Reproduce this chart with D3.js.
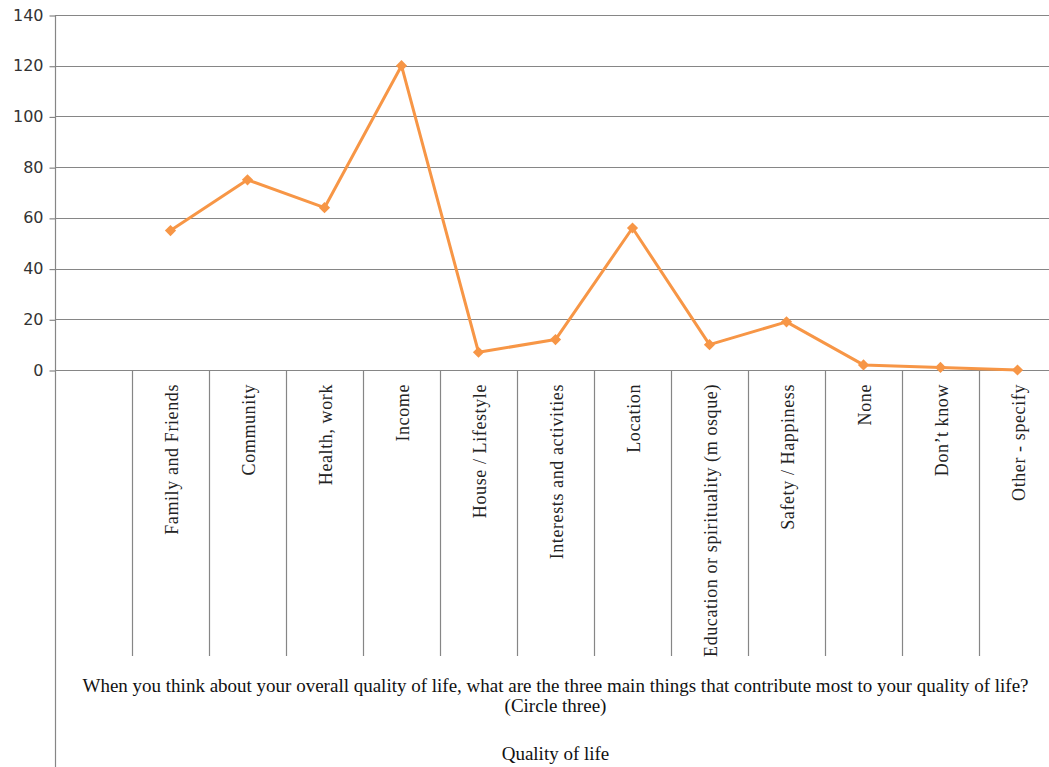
<!DOCTYPE html>
<html>
<head>
<meta charset="utf-8">
<script src="https://cdn.jsdelivr.net/npm/d3@7"></script>
<style>
  html, body { margin: 0; padding: 0; background: #fff; }
  svg { display: block; }
</style>
</head>
<body>
<script>
// Survey responses: leading blank slot, then the answer options
const categories = ["", "Family and Friends", "Community", "Health, work", "Income",
  "House / Lifestyle", "Interests and activities", "Location",
  "Education or spirituality (m osque)", "Safety / Happiness", "None",
  "Don\u2019t know", "Other - specify"];
const values = [null, 55, 75, 64, 120, 7, 12, 56, 10, 19, 2, 1, 0];
const yTicks = [0, 20, 40, 60, 80, 100, 120, 140];
const groupTitle = ["When you think about your overall quality of life, what are the three main things that contribute most to your quality of life?",
  "(Circle three)"];
const axisTitle = "Quality of life";

const W = 1049, H = 767;
const plotLeft = 55, plotRight = 1056, plotTop = 15, plotBottom = 370;

const svg = d3.select("body").append("svg").attr("width", W).attr("height", H);

const x = d3.scaleBand().domain(categories).range([plotLeft, plotRight]);
const y = d3.scaleLinear().domain([0, 140]).range([plotBottom, plotTop]);

const grid = "#868686";

// horizontal gridlines
svg.append("g").selectAll("line").data(yTicks).join("line")
  .attr("x1", plotLeft).attr("x2", W)
  .attr("y1", d => Math.round(y(d)) + 0.5).attr("y2", d => Math.round(y(d)) + 0.5)
  .attr("stroke", grid).attr("stroke-width", 1.2);

// y axis
const yAxis = svg.append("g").attr("transform", `translate(${plotLeft + 0.5},0)`)
  .call(d3.axisLeft(y).tickValues(yTicks).tickSize(6).tickPadding(6).tickSizeOuter(0));
yAxis.select(".domain").remove();
yAxis.selectAll(".tick line").attr("stroke", grid).attr("stroke-width", 1.2)
  .attr("transform", "translate(0,0.5)");
yAxis.selectAll(".tick text").attr("fill", "#333")
  .style("font-family", "'DejaVu Sans', sans-serif").style("font-size", "16px");

// left axis line runs the full height of the category area
svg.append("line").attr("x1", plotLeft + 0.5).attr("x2", plotLeft + 0.5)
  .attr("y1", plotTop).attr("y2", H).attr("stroke", grid).attr("stroke-width", 1.2);

// category dividers
svg.append("g").selectAll("line").data(categories.slice(1)).join("line")
  .attr("x1", d => Math.round(x(d)) + 0.5).attr("x2", d => Math.round(x(d)) + 0.5)
  .attr("y1", plotBottom).attr("y2", 656)
  .attr("stroke", grid).attr("stroke-width", 1.2);

// rotated category labels
svg.append("g").selectAll("text").data(categories.filter(c => c !== "")).join("text")
  .attr("transform", d => `translate(${x(d) + x.bandwidth() / 2 + 7},${plotBottom + 14}) rotate(-90)`)
  .attr("text-anchor", "end")
  .style("font-family", "'Liberation Serif', 'Times New Roman', serif")
  .style("font-size", "18px").style("letter-spacing", "0.6px").attr("fill", "#222")
  .text(d => d);

// grouping title and axis title
const cx = (plotLeft + plotRight) / 2;
svg.append("text").attr("x", cx).attr("y", 692).attr("text-anchor", "middle")
  .style("font-family", "'Liberation Serif', serif").style("font-size", "19px")
  .attr("fill", "#111").text(groupTitle[0]);
svg.append("text").attr("x", cx).attr("y", 712).attr("text-anchor", "middle")
  .style("font-family", "'Liberation Serif', serif").style("font-size", "19px")
  .attr("fill", "#111").text(groupTitle[1]);
svg.append("text").attr("x", cx).attr("y", 760).attr("text-anchor", "middle")
  .style("font-family", "'Liberation Serif', serif").style("font-size", "19px")
  .attr("fill", "#111").text(axisTitle);

// data line
const orange = "#F79646";
const pts = categories.map((c, i) => ({ c, v: values[i] }));
const line = d3.line().defined(d => d.v != null)
  .x(d => x(d.c) + x.bandwidth() / 2).y(d => y(d.v));
svg.append("path").datum(pts).attr("d", line)
  .attr("fill", "none").attr("stroke", orange).attr("stroke-width", 3)
  .attr("stroke-linejoin", "round");

// diamond markers
svg.append("g").selectAll("path").data(pts.filter(d => d.v != null)).join("path")
  .attr("transform", d => `translate(${x(d.c) + x.bandwidth() / 2},${y(d.v)})`)
  .attr("d", d3.symbol(d3.symbolDiamond2, 80)())
  .attr("fill", orange);
</script>
</body>
</html>
